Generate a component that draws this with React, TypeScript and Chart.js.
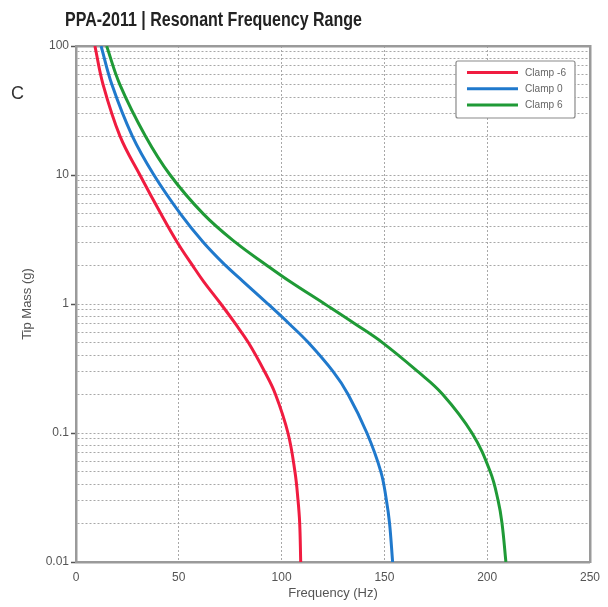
import React, { useEffect, useRef } from 'react';
import { Chart, registerables } from 'chart.js';

Chart.register(...registerables);

// ---- data ----
const tipMass = [100, 50, 20, 10, 5, 3, 2, 1.5, 1, 0.7, 0.5, 0.3, 0.2, 0.1, 0.05, 0.03, 0.02, 0.01];
const clampNeg6Freq = [9.2, 13.2, 21.4, 31.1, 41.3, 49.3, 56.6, 62.0, 70.5, 77.6, 83.9, 91.7, 97.0, 103.1, 106.5, 108.0, 108.8, 109.3];
const clamp0Freq = [12.2, 17.5, 27.4, 37.9, 50.8, 62.0, 72.6, 81.2, 93.4, 103.8, 113.1, 125.0, 132.3, 141.5, 148.3, 151.0, 152.5, 154.0];
const clamp6Freq = [14.9, 21.4, 33.8, 45.8, 61.9, 77.6, 92.7, 103.9, 121.0, 135.8, 149.2, 166.2, 178.3, 192.6, 201.5, 205.3, 207.2, 209.1];
const seriesLabels = ['Clamp -6', 'Clamp 0', 'Clamp 6'];
const seriesColors = ['#f01c40', '#2079cc', '#1f9a36'];

const xTickValues = [0, 50, 100, 150, 200, 250];
const yDecades = [0.01, 0.1, 1, 10, 100];
const yTickLabels = ['0.01', '0.1', '1', '10', '100'];

const titleText = 'PPA-2011 | Resonant Frequency Range';
const strayText = 'C';
const xAxisTitle = 'Frequency (Hz)';
const yAxisTitle = 'Tip Mass (g)';

// ---- helpers ----
const yTickValues: number[] = [];
for (let i = 0; i < yDecades.length - 1; i++) {
  for (let k = 1; k <= 9; k++) yTickValues.push(parseFloat((yDecades[i] * k).toPrecision(6)));
}
yTickValues.push(yDecades[yDecades.length - 1]);

const majorLabel = (v: number): string => {
  const idx = yDecades.findIndex((d) => Math.abs(Math.log10(d) - Math.log10(v)) < 1e-6);
  return idx >= 0 ? yTickLabels[idx] : '';
};

const series = [clampNeg6Freq, clamp0Freq, clamp6Freq];

const GRID = '#a8a8a8';
const FRAME = '#9a9a9a';
const TEXT = '#555';
const SANS = '"Liberation Sans", Arial, sans-serif';

const overlayPlugin = {
  id: 'overlay',
  afterDraw(chart: any) {
    const { ctx, chartArea } = chart;
    ctx.save();
    // title (condensed bold)
    ctx.font = 'bold 20px ' + SANS;
    ctx.fillStyle = '#222';
    ctx.textBaseline = 'alphabetic';
    ctx.textAlign = 'left';
    const w = ctx.measureText(titleText).width;
    const sx = 297 / w;
    ctx.save();
    ctx.translate(chartArea.left - 11, 26);
    ctx.scale(sx, 1);
    ctx.fillText(titleText, 0, 0);
    ctx.restore();

    // stray letter
    ctx.font = '18px ' + SANS;
    ctx.fillStyle = '#333';
    ctx.fillText(strayText, 11, 99);

    // legend box
    const bw = 119;
    const bh = 57;
    const bx = chartArea.right - 134;
    const by = chartArea.top + 15;
    ctx.fillStyle = '#fff';
    ctx.strokeStyle = '#8a8a8a';
    ctx.lineWidth = 1.2;
    ctx.beginPath();
    if ((ctx as any).roundRect) ctx.roundRect(bx, by, bw, bh, 2);
    else ctx.rect(bx, by, bw, bh);
    ctx.fill();
    ctx.stroke();
    chart.data.datasets.forEach((ds: any, i: number) => {
      const y = by + 11.5 + i * 16.2;
      ctx.strokeStyle = ds.borderColor;
      ctx.lineWidth = 3;
      ctx.beginPath();
      ctx.moveTo(bx + 11, y);
      ctx.lineTo(bx + 62, y);
      ctx.stroke();
      ctx.fillStyle = '#666';
      ctx.font = '11px ' + SANS;
      ctx.textBaseline = 'middle';
      ctx.save();
      ctx.translate(bx + 69, y);
      ctx.scale(0.92, 1);
      ctx.fillText(ds.label, 0, 0);
      ctx.restore();
    });
    ctx.restore();
  },
};

export default function App() {
  const canvasRef = useRef<HTMLCanvasElement | null>(null);

  useEffect(() => {
    if (!canvasRef.current) return;
    const datasets = series.map((freqs, i) => ({
      label: seriesLabels[i],
      data: tipMass.map((m, j) => ({ x: freqs[j], y: m })),
      borderColor: seriesColors[i],
      backgroundColor: seriesColors[i],
      borderWidth: 3,
      pointRadius: 0,
      fill: false,
      tension: 0.4,
    }));

    const chart = new Chart(canvasRef.current, {
      type: 'line',
      data: { datasets },
      plugins: [overlayPlugin],
      options: {
        animation: false,
        responsive: false,
        devicePixelRatio: 1,
        layout: { padding: { top: 46, right: 17, left: 0, bottom: 0 } },
        plugins: {
          legend: { display: false },
          title: { display: false },
          tooltip: { enabled: false },
        },
        scales: {
          x: {
            type: 'linear',
            position: 'bottom',
            min: 0,
            max: 250,
            afterBuildTicks: (scale: any) => {
              scale.ticks = xTickValues.map((v) => ({ value: v }));
            },
            afterFit: (scale: any) => {
              scale.height = 45;
            },
            ticks: {
              padding: 8,
              color: TEXT,
              font: { family: SANS, size: 12 },
            },
            grid: { color: GRID, lineWidth: 1, drawTicks: false },
            border: { display: true, color: FRAME, width: 2.5, dash: [2, 2] },
            title: {
              display: true,
              text: xAxisTitle,
              color: TEXT,
              font: { family: SANS, size: 13 },
              padding: { top: 0, bottom: 6 },
            },
          },
          y: {
            type: 'logarithmic',
            position: 'left',
            min: 0.01,
            max: 100,
            afterBuildTicks: (scale: any) => {
              scale.ticks = yTickValues.map((v) => ({ value: v }));
            },
            afterFit: (scale: any) => {
              scale.width = 76;
            },
            ticks: {
              autoSkip: false,
              padding: 2,
              color: TEXT,
              font: { family: SANS, size: 12 },
              callback: (v: any) => majorLabel(Number(v)),
            },
            grid: {
              color: GRID,
              lineWidth: 1,
              drawTicks: true,
              tickLength: 5,
              tickColor: (ctx: any) => (ctx.tick && majorLabel(ctx.tick.value) ? '#555' : 'rgba(0,0,0,0)'),
              tickWidth: 1.5,
            },
            border: { display: true, color: FRAME, width: 2.5, dash: [2, 2] },
            title: {
              display: true,
              text: yAxisTitle,
              color: TEXT,
              font: { family: SANS, size: 13 },
              padding: { top: 20, bottom: 0 },
            },
          },
          x2: {
            type: 'linear',
            position: 'top',
            min: 0,
            max: 250,
            grid: { display: false, drawTicks: false },
            ticks: { display: false },
            border: { display: true, color: FRAME, width: 2.5 },
          },
          y2: {
            type: 'logarithmic',
            position: 'right',
            min: 0.01,
            max: 100,
            grid: { display: false, drawTicks: false },
            ticks: { display: false },
            border: { display: true, color: FRAME, width: 2.5 },
          },
        },
      } as any,
    });
    return () => chart.destroy();
  }, []);

  return (
    <div style={{ position: 'absolute', left: 0, top: 0, width: 608, height: 607, background: '#fff' }}>
      <canvas ref={canvasRef} width={608} height={607} style={{ width: 608, height: 607, display: 'block' }} />
    </div>
  );
}
